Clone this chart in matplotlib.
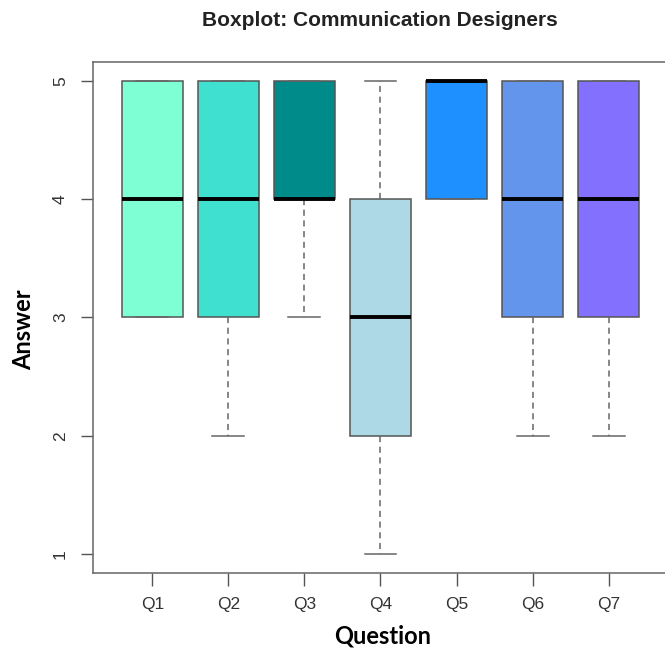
import matplotlib
matplotlib.use("Agg")
import matplotlib.pyplot as plt

questions = ["Q1", "Q2", "Q3", "Q4", "Q5", "Q6", "Q7"]
whisker_low = [3, 2, 3, 1, 4, 2, 2]
q1_vals = [3, 3, 4, 2, 4, 3, 3]
medians = [4, 4, 4, 3, 5, 4, 4]
q3_vals = [5, 5, 5, 4, 5, 5, 5]
whisker_high = [5, 5, 5, 5, 5, 5, 5]
colors = ["#7FFFD4", "#40E0D0", "#008B8B", "#ADD8E6", "#1E90FF", "#6495ED", "#8470FF"]
y_ticks = [1, 2, 3, 4, 5]

fig = plt.figure(figsize=(6.65, 6.5), dpi=100)
ax = fig.add_axes([93 / 665, (650 - 573) / 650, (668 - 93) / 665, (573 - 62) / 650])

stats = []
for i, q in enumerate(questions):
    stats.append(dict(label=q, whislo=whisker_low[i], q1=q1_vals[i], med=medians[i],
                      q3=q3_vals[i], whishi=whisker_high[i], fliers=[]))

positions = list(range(1, len(questions) + 1))
bp = ax.bxp(stats, positions=positions, widths=0.8, patch_artist=True,
            showfliers=False, manage_ticks=False,
            boxprops=dict(edgecolor="#555555", linewidth=1.1),
            medianprops=dict(color="black", linewidth=2.8, solid_capstyle="butt"),
            whiskerprops=dict(color="#666666", linewidth=1.1, linestyle=(0, (4, 3))),
            capprops=dict(color="#666666", linewidth=1.1),
            capwidths=0.42)
for patch, c in zip(bp["boxes"], colors):
    patch.set_facecolor(c)

ax.set_xlim(0.22, 7.78)
ax.set_ylim(0.84, 5.16)
ax.set_xticks(positions)
ax.set_xticklabels(questions, fontfamily="Liberation Sans", fontsize=12.5, color="#333333")
ax.set_yticks(y_ticks)
ax.set_yticklabels([str(v) for v in y_ticks], fontfamily="Liberation Sans", fontsize=12.5,
                   color="#333333", rotation=90, va="center")
ax.tick_params(axis="both", direction="out", length=9, width=1.0, color="#555555")
ax.tick_params(axis="y", pad=9)
ax.tick_params(axis="x", pad=8)
for s in ax.spines.values():
    s.set_color("#666666")
    s.set_linewidth(1.1)

fig.text(380 / 665, 1 - 20 / 650, "Boxplot: Communication Designers", ha="center", va="center",
         fontfamily="Liberation Sans", fontweight="bold", fontsize=15, color="#222222")
fig.text(383 / 665, 1 - 636 / 650, "Question", ha="center", va="center",
         fontfamily="Lato", fontweight="bold", fontsize=17, color="black")
fig.text(24 / 665, 1 - 330 / 650, "Answer", ha="center", va="center", rotation=90,
         fontfamily="Lato", fontweight="bold", fontsize=17, color="black")

fig.savefig("out.png", dpi=100)
